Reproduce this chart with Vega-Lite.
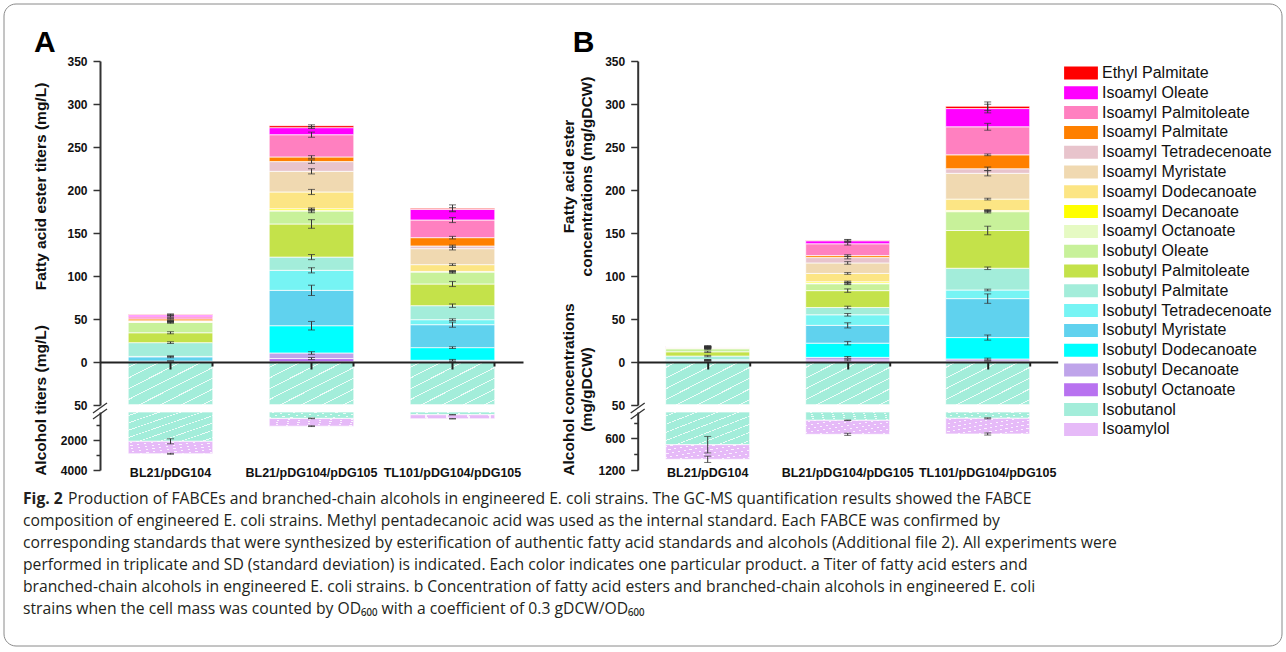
{
"$schema": "https://vega.github.io/schema/vega-lite/v6.json",
"autosize": {"type": "pad"},
"padding": 3,
"bounds": "flush",
"columns": 2,
"spacing": {"row": 7, "column": 114.7},
"config": {
  "view": {"stroke": null},
  "font": "Liberation Sans",
  "axis": {"labelFont": "Liberation Sans", "labelFontWeight": "bold", "labelFontSize": 12, "labelColor": "#111", "titleFont": "Liberation Sans", "titleFontWeight": "bold", "titleFontSize": 15.5, "titleColor": "#111", "domainColor": "#333", "domainWidth": 2, "tickColor": "#333", "tickWidth": 1.5, "grid": false, "labelOverlap": false},
  "legend": {"orient": "none", "legendX": 973, "legendY": 4, "labelFont": "Liberation Sans", "labelFontSize": 16, "labelColor": "#111", "symbolType": "M-2.6,-1H2.6V1H-2.6Z", "symbolSize": 169, "symbolStrokeWidth": 0, "symbolOpacity": 1, "labelOffset": 13, "rowPadding": 3.8, "padding": 0, "labelLimit": 300}
},
"datasets": {
  "cmp": [
    {"c":"Isobutyl Octanoate","k":1},{"c":"Isobutyl Decanoate","k":2},{"c":"Isobutyl Dodecanoate","k":3},{"c":"Isobutyl Myristate","k":4},{"c":"Isobutyl Tetradecenoate","k":5},{"c":"Isobutyl Palmitate","k":6},{"c":"Isobutyl Palmitoleate","k":7},{"c":"Isobutyl Oleate","k":8},{"c":"Isoamyl Octanoate","k":9},{"c":"Isoamyl Decanoate","k":10},{"c":"Isoamyl Dodecanoate","k":11},{"c":"Isoamyl Myristate","k":12},{"c":"Isoamyl Tetradecenoate","k":13},{"c":"Isoamyl Palmitate","k":14},{"c":"Isoamyl Palmitoleate","k":15},{"c":"Isoamyl Oleate","k":16},{"c":"Ethyl Palmitate","k":17},{"c":"Isobutanol","k":18},{"c":"Isoamylol","k":19}
  ],
  "cap": [
    {"line":1,"lead":"Fig. 2","t":"Production of FABCEs and branched-chain alcohols in engineered E. coli strains. The GC-MS quantification results showed the FABCE"},
    {"line":2,"lead":"","t":"composition of engineered E. coli strains. Methyl pentadecanoic acid was used as the internal standard. Each FABCE was confirmed by"},
    {"line":3,"lead":"","t":"corresponding standards that were synthesized by esterification of authentic fatty acid standards and alcohols (Additional file 2). All experiments were"},
    {"line":4,"lead":"","t":"performed in triplicate and SD (standard deviation) is indicated. Each color indicates one particular product. a Titer of fatty acid esters and"},
    {"line":5,"lead":"","t":"branched-chain alcohols in engineered E. coli strains. b Concentration of fatty acid esters and branched-chain alcohols in engineered E. coli"},
    {"line":6,"lead":"","t":"strains when the cell mass was counted by OD₆₀₀ with a coefficient of 0.3 gDCW/OD₆₀₀"}
  ],
  "rows": [
    {"p":"A","g":"E","s":"BL21/pDG104","c":"Isobutyl Octanoate","v":0,"e":0},
    {"p":"A","g":"E","s":"BL21/pDG104","c":"Isobutyl Decanoate","v":0.5,"e":0.5},
    {"p":"A","g":"E","s":"BL21/pDG104","c":"Isobutyl Dodecanoate","v":0.5,"e":0.3},
    {"p":"A","g":"E","s":"BL21/pDG104","c":"Isobutyl Myristate","v":5,"e":1},
    {"p":"A","g":"E","s":"BL21/pDG104","c":"Isobutyl Tetradecenoate","v":0.5,"e":0.3},
    {"p":"A","g":"E","s":"BL21/pDG104","c":"Isobutyl Palmitate","v":16,"e":1},
    {"p":"A","g":"E","s":"BL21/pDG104","c":"Isobutyl Palmitoleate","v":11.5,"e":1.2},
    {"p":"A","g":"E","s":"BL21/pDG104","c":"Isobutyl Oleate","v":12,"e":1},
    {"p":"A","g":"E","s":"BL21/pDG104","c":"Isoamyl Octanoate","v":0.3,"e":0.2},
    {"p":"A","g":"E","s":"BL21/pDG104","c":"Isoamyl Decanoate","v":0,"e":0},
    {"p":"A","g":"E","s":"BL21/pDG104","c":"Isoamyl Dodecanoate","v":0.5,"e":0.3},
    {"p":"A","g":"E","s":"BL21/pDG104","c":"Isoamyl Myristate","v":0.8,"e":0.5},
    {"p":"A","g":"E","s":"BL21/pDG104","c":"Isoamyl Tetradecenoate","v":0.3,"e":0.2},
    {"p":"A","g":"E","s":"BL21/pDG104","c":"Isoamyl Palmitate","v":2.2,"e":0.5},
    {"p":"A","g":"E","s":"BL21/pDG104","c":"Isoamyl Palmitoleate","v":2.5,"e":0.8},
    {"p":"A","g":"E","s":"BL21/pDG104","c":"Isoamyl Oleate","v":2,"e":0.8},
    {"p":"A","g":"E","s":"BL21/pDG104","c":"Ethyl Palmitate","v":0.5,"e":0.8},
    {"p":"A","g":"E","s":"BL21/pDG104/pDG105","c":"Isobutyl Octanoate","v":4,"e":1.2},
    {"p":"A","g":"E","s":"BL21/pDG104/pDG105","c":"Isobutyl Decanoate","v":6.5,"e":1.5},
    {"p":"A","g":"E","s":"BL21/pDG104/pDG105","c":"Isobutyl Dodecanoate","v":31.7,"e":5},
    {"p":"A","g":"E","s":"BL21/pDG104/pDG105","c":"Isobutyl Myristate","v":41.1,"e":6},
    {"p":"A","g":"E","s":"BL21/pDG104/pDG105","c":"Isobutyl Tetradecenoate","v":23.3,"e":3},
    {"p":"A","g":"E","s":"BL21/pDG104/pDG105","c":"Isobutyl Palmitate","v":15.4,"e":3},
    {"p":"A","g":"E","s":"BL21/pDG104/pDG105","c":"Isobutyl Palmitoleate","v":38.5,"e":5},
    {"p":"A","g":"E","s":"BL21/pDG104/pDG105","c":"Isobutyl Oleate","v":15.1,"e":2},
    {"p":"A","g":"E","s":"BL21/pDG104/pDG105","c":"Isoamyl Octanoate","v":0.5,"e":0.5},
    {"p":"A","g":"E","s":"BL21/pDG104/pDG105","c":"Isoamyl Decanoate","v":2,"e":1},
    {"p":"A","g":"E","s":"BL21/pDG104/pDG105","c":"Isoamyl Dodecanoate","v":19.6,"e":3},
    {"p":"A","g":"E","s":"BL21/pDG104/pDG105","c":"Isoamyl Myristate","v":24,"e":3},
    {"p":"A","g":"E","s":"BL21/pDG104/pDG105","c":"Isoamyl Tetradecenoate","v":11.3,"e":2},
    {"p":"A","g":"E","s":"BL21/pDG104/pDG105","c":"Isoamyl Palmitate","v":5.4,"e":1.5},
    {"p":"A","g":"E","s":"BL21/pDG104/pDG105","c":"Isoamyl Palmitoleate","v":25.9,"e":3},
    {"p":"A","g":"E","s":"BL21/pDG104/pDG105","c":"Isoamyl Oleate","v":8.2,"e":1},
    {"p":"A","g":"E","s":"BL21/pDG104/pDG105","c":"Ethyl Palmitate","v":2.3,"e":1},
    {"p":"A","g":"E","s":"TL101/pDG104/pDG105","c":"Isobutyl Octanoate","v":0.5,"e":0.3},
    {"p":"A","g":"E","s":"TL101/pDG104/pDG105","c":"Isobutyl Decanoate","v":1.5,"e":1},
    {"p":"A","g":"E","s":"TL101/pDG104/pDG105","c":"Isobutyl Dodecanoate","v":14.7,"e":1},
    {"p":"A","g":"E","s":"TL101/pDG104/pDG105","c":"Isobutyl Myristate","v":26.7,"e":3},
    {"p":"A","g":"E","s":"TL101/pDG104/pDG105","c":"Isobutyl Tetradecenoate","v":5.8,"e":1},
    {"p":"A","g":"E","s":"TL101/pDG104/pDG105","c":"Isobutyl Palmitate","v":16.3,"e":2},
    {"p":"A","g":"E","s":"TL101/pDG104/pDG105","c":"Isobutyl Palmitoleate","v":25.2,"e":3},
    {"p":"A","g":"E","s":"TL101/pDG104/pDG105","c":"Isobutyl Oleate","v":14,"e":1.5},
    {"p":"A","g":"E","s":"TL101/pDG104/pDG105","c":"Isoamyl Octanoate","v":0.3,"e":0.5},
    {"p":"A","g":"E","s":"TL101/pDG104/pDG105","c":"Isoamyl Decanoate","v":0.3,"e":0.5},
    {"p":"A","g":"E","s":"TL101/pDG104/pDG105","c":"Isoamyl Dodecanoate","v":7.9,"e":1},
    {"p":"A","g":"E","s":"TL101/pDG104/pDG105","c":"Isoamyl Myristate","v":18.6,"e":1.5},
    {"p":"A","g":"E","s":"TL101/pDG104/pDG105","c":"Isoamyl Tetradecenoate","v":3.1,"e":1},
    {"p":"A","g":"E","s":"TL101/pDG104/pDG105","c":"Isoamyl Palmitate","v":9.7,"e":1.5},
    {"p":"A","g":"E","s":"TL101/pDG104/pDG105","c":"Isoamyl Palmitoleate","v":20.5,"e":3},
    {"p":"A","g":"E","s":"TL101/pDG104/pDG105","c":"Isoamyl Oleate","v":12.4,"e":2},
    {"p":"A","g":"E","s":"TL101/pDG104/pDG105","c":"Ethyl Palmitate","v":1.2,"e":4},
    {"p":"B","g":"E","s":"BL21/pDG104","c":"Isobutyl Octanoate","v":0.3,"e":0.5},
    {"p":"B","g":"E","s":"BL21/pDG104","c":"Isobutyl Decanoate","v":0.5,"e":0.5},
    {"p":"B","g":"E","s":"BL21/pDG104","c":"Isobutyl Dodecanoate","v":0.3,"e":0.3},
    {"p":"B","g":"E","s":"BL21/pDG104","c":"Isobutyl Myristate","v":1.2,"e":0.5},
    {"p":"B","g":"E","s":"BL21/pDG104","c":"Isobutyl Tetradecenoate","v":0.3,"e":0.3},
    {"p":"B","g":"E","s":"BL21/pDG104","c":"Isobutyl Palmitate","v":4.3,"e":0.8},
    {"p":"B","g":"E","s":"BL21/pDG104","c":"Isobutyl Palmitoleate","v":5,"e":0.8},
    {"p":"B","g":"E","s":"BL21/pDG104","c":"Isobutyl Oleate","v":3.5,"e":0.8},
    {"p":"B","g":"E","s":"BL21/pDG104","c":"Isoamyl Octanoate","v":0.3,"e":0.3},
    {"p":"B","g":"E","s":"BL21/pDG104","c":"Isoamyl Decanoate","v":0,"e":0},
    {"p":"B","g":"E","s":"BL21/pDG104","c":"Isoamyl Dodecanoate","v":0.3,"e":0.3},
    {"p":"B","g":"E","s":"BL21/pDG104","c":"Isoamyl Myristate","v":1.2,"e":0.8},
    {"p":"B","g":"E","s":"BL21/pDG104","c":"Isoamyl Tetradecenoate","v":0.2,"e":0.3},
    {"p":"B","g":"E","s":"BL21/pDG104","c":"Isoamyl Palmitate","v":0.2,"e":0.3},
    {"p":"B","g":"E","s":"BL21/pDG104","c":"Isoamyl Palmitoleate","v":0.2,"e":0.5},
    {"p":"B","g":"E","s":"BL21/pDG104","c":"Isoamyl Oleate","v":0.1,"e":0.5},
    {"p":"B","g":"E","s":"BL21/pDG104","c":"Ethyl Palmitate","v":0.1,"e":1},
    {"p":"B","g":"E","s":"BL21/pDG104/pDG105","c":"Isobutyl Octanoate","v":2.3,"e":1},
    {"p":"B","g":"E","s":"BL21/pDG104/pDG105","c":"Isobutyl Decanoate","v":3.1,"e":1},
    {"p":"B","g":"E","s":"BL21/pDG104/pDG105","c":"Isobutyl Dodecanoate","v":16.5,"e":2},
    {"p":"B","g":"E","s":"BL21/pDG104/pDG105","c":"Isobutyl Myristate","v":20.7,"e":3},
    {"p":"B","g":"E","s":"BL21/pDG104/pDG105","c":"Isobutyl Tetradecenoate","v":12.3,"e":1.5},
    {"p":"B","g":"E","s":"BL21/pDG104/pDG105","c":"Isobutyl Palmitate","v":8.5,"e":1.5},
    {"p":"B","g":"E","s":"BL21/pDG104/pDG105","c":"Isobutyl Palmitoleate","v":19.6,"e":2},
    {"p":"B","g":"E","s":"BL21/pDG104/pDG105","c":"Isobutyl Oleate","v":8,"e":1},
    {"p":"B","g":"E","s":"BL21/pDG104/pDG105","c":"Isoamyl Octanoate","v":0.8,"e":1},
    {"p":"B","g":"E","s":"BL21/pDG104/pDG105","c":"Isoamyl Decanoate","v":1.5,"e":0.8},
    {"p":"B","g":"E","s":"BL21/pDG104/pDG105","c":"Isoamyl Dodecanoate","v":9.7,"e":1},
    {"p":"B","g":"E","s":"BL21/pDG104/pDG105","c":"Isoamyl Myristate","v":12.2,"e":1.5},
    {"p":"B","g":"E","s":"BL21/pDG104/pDG105","c":"Isoamyl Tetradecenoate","v":6.2,"e":1.5},
    {"p":"B","g":"E","s":"BL21/pDG104/pDG105","c":"Isoamyl Palmitate","v":2.3,"e":1},
    {"p":"B","g":"E","s":"BL21/pDG104/pDG105","c":"Isoamyl Palmitoleate","v":13.8,"e":1.5},
    {"p":"B","g":"E","s":"BL21/pDG104/pDG105","c":"Isoamyl Oleate","v":3.5,"e":1},
    {"p":"B","g":"E","s":"BL21/pDG104/pDG105","c":"Ethyl Palmitate","v":0.5,"e":1},
    {"p":"B","g":"E","s":"TL101/pDG104/pDG105","c":"Isobutyl Octanoate","v":1,"e":0.5},
    {"p":"B","g":"E","s":"TL101/pDG104/pDG105","c":"Isobutyl Decanoate","v":2.5,"e":1},
    {"p":"B","g":"E","s":"TL101/pDG104/pDG105","c":"Isobutyl Dodecanoate","v":24.9,"e":3},
    {"p":"B","g":"E","s":"TL101/pDG104/pDG105","c":"Isobutyl Myristate","v":45.3,"e":5.5},
    {"p":"B","g":"E","s":"TL101/pDG104/pDG105","c":"Isobutyl Tetradecenoate","v":10,"e":1},
    {"p":"B","g":"E","s":"TL101/pDG104/pDG105","c":"Isobutyl Palmitate","v":25.3,"e":1.5},
    {"p":"B","g":"E","s":"TL101/pDG104/pDG105","c":"Isobutyl Palmitoleate","v":43.9,"e":5},
    {"p":"B","g":"E","s":"TL101/pDG104/pDG105","c":"Isobutyl Oleate","v":21.9,"e":1.5},
    {"p":"B","g":"E","s":"TL101/pDG104/pDG105","c":"Isoamyl Octanoate","v":0.5,"e":0.8},
    {"p":"B","g":"E","s":"TL101/pDG104/pDG105","c":"Isoamyl Decanoate","v":0.8,"e":1},
    {"p":"B","g":"E","s":"TL101/pDG104/pDG105","c":"Isoamyl Dodecanoate","v":13.3,"e":1},
    {"p":"B","g":"E","s":"TL101/pDG104/pDG105","c":"Isoamyl Myristate","v":30,"e":3},
    {"p":"B","g":"E","s":"TL101/pDG104/pDG105","c":"Isoamyl Tetradecenoate","v":5.3,"e":2},
    {"p":"B","g":"E","s":"TL101/pDG104/pDG105","c":"Isoamyl Palmitate","v":16.2,"e":1},
    {"p":"B","g":"E","s":"TL101/pDG104/pDG105","c":"Isoamyl Palmitoleate","v":32.6,"e":4},
    {"p":"B","g":"E","s":"TL101/pDG104/pDG105","c":"Isoamyl Oleate","v":21.2,"e":5},
    {"p":"B","g":"E","s":"TL101/pDG104/pDG105","c":"Ethyl Palmitate","v":2.7,"e":5},
    {"p":"A","g":"L","s":"BL21/pDG104","c":"Isobutanol","v":2070,"e":170},
    {"p":"A","g":"L","s":"BL21/pDG104","c":"Isoamylol","v":840,"e":30},
    {"p":"A","g":"L","s":"BL21/pDG104/pDG105","c":"Isobutanol","v":529,"e":20},
    {"p":"A","g":"L","s":"BL21/pDG104/pDG105","c":"Isoamylol","v":524,"e":25},
    {"p":"A","g":"L","s":"TL101/pDG104/pDG105","c":"Isobutanol","v":284,"e":10},
    {"p":"A","g":"L","s":"TL101/pDG104/pDG105","c":"Isoamylol","v":272,"e":10},
    {"p":"B","g":"L","s":"BL21/pDG104","c":"Isobutanol","v":720,"e":157},
    {"p":"B","g":"L","s":"BL21/pDG104","c":"Isoamylol","v":277,"e":60},
    {"p":"B","g":"L","s":"BL21/pDG104/pDG105","c":"Isobutanol","v":257,"e":5},
    {"p":"B","g":"L","s":"BL21/pDG104/pDG105","c":"Isoamylol","v":266,"e":20},
    {"p":"B","g":"L","s":"TL101/pDG104/pDG105","c":"Isobutanol","v":219,"e":10},
    {"p":"B","g":"L","s":"TL101/pDG104/pDG105","c":"Isoamylol","v":298,"e":20}
  ]
},
"concat": [
  {
    "width": 423, "height": 344,
    "title": {"text": "A", "anchor": "start", "frame": "group", "dx": -66, "dy": 35.5, "offset": 8.5, "baseline": "alphabetic", "fontSize": 30, "fontWeight": "bold", "font": "Liberation Sans", "color": "#000"},
    "layer": [
      {
        "data": {"name": "rows"},
        "transform": [
          {"filter": "datum.p === 'A' && datum.g === 'E'"},
          {"lookup": "c", "from": {"data": {"name": "cmp"}, "key": "c", "fields": ["k"]}},
          {"stack": "v", "groupby": ["s"], "sort": [{"field": "k", "order": "ascending"}], "as": ["v0", "v1"]},
          {"calculate": "datum.v1 - datum.e", "as": "lo"},
          {"calculate": "datum.v1 + datum.e", "as": "hi"}
        ],
        "encoding": {"x": {"field": "s", "type": "nominal", "title": null, "scale": {"paddingInner": 0.4, "paddingOuter": 0.2}, "axis": {"orient": "bottom", "offset": -43, "labels": false, "domainColor": "#222", "domainWidth": 2, "tickColor": "#222", "tickWidth": 2, "tickSize": 7, "zindex": 1}}},
        "layer": [
          {"mark": {"type": "bar", "stroke": "white", "strokeWidth": 0.7, "opacity": 1},
           "encoding": {
             "y": {"field": "v0", "type": "quantitative", "scale": {"domain": [-50, 350], "nice": false, "zero": false},
               "axis": {"title": "Fatty acid ester titers (mg/L)", "titleY": 125, "titleX": -55, "titleBaseline": "alphabetic", "values": [-50,-25,0,25,50,75,100,125,150,175,200,225,250,275,300,325,350], "labelExpr": "datum.value % 50 === 0 ? format(abs(datum.value), 'd') : ''", "tickSize": {"condition": {"test": "datum.value % 50 === 0", "value": 7}, "value": 4}, "labelPadding": 6, "labelOverlap": false}},
             "y2": {"field": "v1"},
             "color": {"field": "c", "type": "nominal", "title": null, "scale": {"domain": ["Ethyl Palmitate","Isoamyl Oleate","Isoamyl Palmitoleate","Isoamyl Palmitate","Isoamyl Tetradecenoate","Isoamyl Myristate","Isoamyl Dodecanoate","Isoamyl Decanoate","Isoamyl Octanoate","Isobutyl Oleate","Isobutyl Palmitoleate","Isobutyl Palmitate","Isobutyl Tetradecenoate","Isobutyl Myristate","Isobutyl Dodecanoate","Isobutyl Decanoate","Isobutyl Octanoate","Isobutanol","Isoamylol"], "range": ["#FF0000","#FF00FF","#FF80C0","#FF8000","#E8C4CC","#F0D9B1","#FCE584","#FFFF00","#E6FAC3","#C8F19A","#C4E24A","#A3EDDA","#76F4F4","#60D2EE","#00FFFF","#BFA4EA","#B872F0","#A3EDDA","#E6BAF8"]}}
           }},
          {"transform": [{"filter": "datum.e > 0"}], "mark": {"type": "rule", "color": "#333", "strokeWidth": 1}, "encoding": {"y": {"field": "lo", "type": "quantitative"}, "y2": {"field": "hi"}}},
          {"transform": [{"filter": "datum.e > 0"}], "mark": {"type": "tick", "color": "#333", "size": 7, "thickness": 1}, "encoding": {"y": {"field": "lo", "type": "quantitative"}}},
          {"transform": [{"filter": "datum.e > 0"}], "mark": {"type": "tick", "color": "#333", "size": 7, "thickness": 1}, "encoding": {"y": {"field": "hi", "type": "quantitative"}}}
        ]
      },
      {
        "data": {"name": "rows"},
        "transform": [
          {"filter": "datum.p === 'A' && datum.g === 'L'"},
          {"lookup": "c", "from": {"data": {"name": "cmp"}, "key": "c", "fields": ["k"]}},
          {"stack": "v", "groupby": ["s"], "sort": [{"field": "k", "order": "ascending"}], "as": ["v0", "v1"]}
        ],
        "encoding": {
          "x": {"field": "s", "type": "nominal", "title": null, "scale": {"paddingInner": 0.4, "paddingOuter": 0.2}, "axis": {"orient": "bottom", "offset": -43, "labels": false, "domain": false, "bandPosition": 1, "tickColor": "#222", "tickWidth": 2, "tickSize": 4, "zindex": 1}},
          "y": {"field": "v0", "type": "quantitative", "scale": {"domain": [-350, 50], "reverse": true, "nice": false, "zero": false, "clamp": true}, "axis": null},
          "y2": {"field": "v1"}
        },
        "layer": [
          {"mark": {"type": "bar", "stroke": "white", "strokeWidth": 0.7},
           "encoding": {"color": {"field": "c", "type": "nominal", "title": null, "scale": {"domain": ["Ethyl Palmitate","Isoamyl Oleate","Isoamyl Palmitoleate","Isoamyl Palmitate","Isoamyl Tetradecenoate","Isoamyl Myristate","Isoamyl Dodecanoate","Isoamyl Decanoate","Isoamyl Octanoate","Isobutyl Oleate","Isobutyl Palmitoleate","Isobutyl Palmitate","Isobutyl Tetradecenoate","Isobutyl Myristate","Isobutyl Dodecanoate","Isobutyl Decanoate","Isobutyl Octanoate","Isobutanol","Isoamylol"], "range": ["#FF0000","#FF00FF","#FF80C0","#FF8000","#E8C4CC","#F0D9B1","#FCE584","#FFFF00","#E6FAC3","#C8F19A","#C4E24A","#A3EDDA","#76F4F4","#60D2EE","#00FFFF","#BFA4EA","#B872F0","#A3EDDA","#E6BAF8"]}}}},
          {"mark": {"type": "bar", "strokeWidth": 0, "fill": {"gradient": "linear", "x1": 0, "y1": 0, "x2": 1, "y2": 1, "stops": [{"offset": 0, "color": "rgba(255,255,255,0)"}, {"offset": 0.056, "color": "rgba(255,255,255,0)"}, {"offset": 0.056, "color": "rgba(255,255,255,0.8)"}, {"offset": 0.069, "color": "rgba(255,255,255,0.8)"}, {"offset": 0.069, "color": "rgba(255,255,255,0)"}, {"offset": 0.181, "color": "rgba(255,255,255,0)"}, {"offset": 0.181, "color": "rgba(255,255,255,0.8)"}, {"offset": 0.194, "color": "rgba(255,255,255,0.8)"}, {"offset": 0.194, "color": "rgba(255,255,255,0)"}, {"offset": 0.306, "color": "rgba(255,255,255,0)"}, {"offset": 0.306, "color": "rgba(255,255,255,0.8)"}, {"offset": 0.319, "color": "rgba(255,255,255,0.8)"}, {"offset": 0.319, "color": "rgba(255,255,255,0)"}, {"offset": 0.431, "color": "rgba(255,255,255,0)"}, {"offset": 0.431, "color": "rgba(255,255,255,0.8)"}, {"offset": 0.444, "color": "rgba(255,255,255,0.8)"}, {"offset": 0.444, "color": "rgba(255,255,255,0)"}, {"offset": 0.556, "color": "rgba(255,255,255,0)"}, {"offset": 0.556, "color": "rgba(255,255,255,0.8)"}, {"offset": 0.569, "color": "rgba(255,255,255,0.8)"}, {"offset": 0.569, "color": "rgba(255,255,255,0)"}, {"offset": 0.681, "color": "rgba(255,255,255,0)"}, {"offset": 0.681, "color": "rgba(255,255,255,0.8)"}, {"offset": 0.694, "color": "rgba(255,255,255,0.8)"}, {"offset": 0.694, "color": "rgba(255,255,255,0)"}, {"offset": 0.806, "color": "rgba(255,255,255,0)"}, {"offset": 0.806, "color": "rgba(255,255,255,0.8)"}, {"offset": 0.819, "color": "rgba(255,255,255,0.8)"}, {"offset": 0.819, "color": "rgba(255,255,255,0)"}, {"offset": 0.931, "color": "rgba(255,255,255,0)"}, {"offset": 0.931, "color": "rgba(255,255,255,0.8)"}, {"offset": 0.944, "color": "rgba(255,255,255,0.8)"}, {"offset": 0.944, "color": "rgba(255,255,255,0)"}, {"offset": 1, "color": "rgba(255,255,255,0)"}]}}}
        ]
      }
    ],
    "resolve": {"scale": {"y": "independent"}, "axis": {"x": "independent"}}
  },
  {
    "width": 420, "height": 344,
    "title": {"text": "B", "anchor": "start", "frame": "group", "dx": -65, "dy": 35.5, "offset": 8.5, "baseline": "alphabetic", "fontSize": 30, "fontWeight": "bold", "font": "Liberation Sans", "color": "#000"},
    "layer": [
      {
        "data": {"name": "rows"},
        "transform": [
          {"filter": "datum.p === 'B' && datum.g === 'E'"},
          {"lookup": "c", "from": {"data": {"name": "cmp"}, "key": "c", "fields": ["k"]}},
          {"stack": "v", "groupby": ["s"], "sort": [{"field": "k", "order": "ascending"}], "as": ["v0", "v1"]},
          {"calculate": "datum.v1 - datum.e", "as": "lo"},
          {"calculate": "datum.v1 + datum.e", "as": "hi"}
        ],
        "encoding": {"x": {"field": "s", "type": "nominal", "title": null, "scale": {"paddingInner": 0.4, "paddingOuter": 0.2}, "axis": {"orient": "bottom", "offset": -43, "labels": false, "domainColor": "#222", "domainWidth": 2, "tickColor": "#222", "tickWidth": 2, "tickSize": 7, "zindex": 1}}},
        "layer": [
          {"mark": {"type": "bar", "stroke": "white", "strokeWidth": 0.7, "opacity": 1},
           "encoding": {
             "y": {"field": "v0", "type": "quantitative", "scale": {"domain": [-50, 350], "nice": false, "zero": false},
               "axis": {"title": ["Fatty acid ester", "concentrations (mg/gDCW)"], "titleLineHeight": 18, "titleY": 115, "titleX": -64, "titleBaseline": "alphabetic", "values": [-50,-25,0,25,50,75,100,125,150,175,200,225,250,275,300,325,350], "labelExpr": "datum.value % 50 === 0 ? format(abs(datum.value), 'd') : ''", "tickSize": {"condition": {"test": "datum.value % 50 === 0", "value": 7}, "value": 4}, "labelPadding": 6, "labelOverlap": false}},
             "y2": {"field": "v1"},
             "color": {"field": "c", "type": "nominal", "title": null, "scale": {"domain": ["Ethyl Palmitate","Isoamyl Oleate","Isoamyl Palmitoleate","Isoamyl Palmitate","Isoamyl Tetradecenoate","Isoamyl Myristate","Isoamyl Dodecanoate","Isoamyl Decanoate","Isoamyl Octanoate","Isobutyl Oleate","Isobutyl Palmitoleate","Isobutyl Palmitate","Isobutyl Tetradecenoate","Isobutyl Myristate","Isobutyl Dodecanoate","Isobutyl Decanoate","Isobutyl Octanoate","Isobutanol","Isoamylol"], "range": ["#FF0000","#FF00FF","#FF80C0","#FF8000","#E8C4CC","#F0D9B1","#FCE584","#FFFF00","#E6FAC3","#C8F19A","#C4E24A","#A3EDDA","#76F4F4","#60D2EE","#00FFFF","#BFA4EA","#B872F0","#A3EDDA","#E6BAF8"]}}
           }},
          {"transform": [{"filter": "datum.e > 0"}], "mark": {"type": "rule", "color": "#333", "strokeWidth": 1}, "encoding": {"y": {"field": "lo", "type": "quantitative"}, "y2": {"field": "hi"}}},
          {"transform": [{"filter": "datum.e > 0"}], "mark": {"type": "tick", "color": "#333", "size": 7, "thickness": 1}, "encoding": {"y": {"field": "lo", "type": "quantitative"}}},
          {"transform": [{"filter": "datum.e > 0"}], "mark": {"type": "tick", "color": "#333", "size": 7, "thickness": 1}, "encoding": {"y": {"field": "hi", "type": "quantitative"}}}
        ]
      },
      {
        "data": {"name": "rows"},
        "transform": [
          {"filter": "datum.p === 'B' && datum.g === 'L'"},
          {"lookup": "c", "from": {"data": {"name": "cmp"}, "key": "c", "fields": ["k"]}},
          {"stack": "v", "groupby": ["s"], "sort": [{"field": "k", "order": "ascending"}], "as": ["v0", "v1"]}
        ],
        "encoding": {
          "x": {"field": "s", "type": "nominal", "title": null, "scale": {"paddingInner": 0.4, "paddingOuter": 0.2}, "axis": {"orient": "bottom", "offset": -43, "labels": false, "domain": false, "bandPosition": 1, "tickColor": "#222", "tickWidth": 2, "tickSize": 4, "zindex": 1}},
          "y": {"field": "v0", "type": "quantitative", "scale": {"domain": [-350, 50], "reverse": true, "nice": false, "zero": false, "clamp": true}, "axis": null},
          "y2": {"field": "v1"}
        },
        "layer": [
          {"mark": {"type": "bar", "stroke": "white", "strokeWidth": 0.7},
           "encoding": {"color": {"field": "c", "type": "nominal", "title": null, "scale": {"domain": ["Ethyl Palmitate","Isoamyl Oleate","Isoamyl Palmitoleate","Isoamyl Palmitate","Isoamyl Tetradecenoate","Isoamyl Myristate","Isoamyl Dodecanoate","Isoamyl Decanoate","Isoamyl Octanoate","Isobutyl Oleate","Isobutyl Palmitoleate","Isobutyl Palmitate","Isobutyl Tetradecenoate","Isobutyl Myristate","Isobutyl Dodecanoate","Isobutyl Decanoate","Isobutyl Octanoate","Isobutanol","Isoamylol"], "range": ["#FF0000","#FF00FF","#FF80C0","#FF8000","#E8C4CC","#F0D9B1","#FCE584","#FFFF00","#E6FAC3","#C8F19A","#C4E24A","#A3EDDA","#76F4F4","#60D2EE","#00FFFF","#BFA4EA","#B872F0","#A3EDDA","#E6BAF8"]}}}},
          {"mark": {"type": "bar", "strokeWidth": 0, "fill": {"gradient": "linear", "x1": 0, "y1": 0, "x2": 1, "y2": 1, "stops": [{"offset": 0, "color": "rgba(255,255,255,0)"}, {"offset": 0.056, "color": "rgba(255,255,255,0)"}, {"offset": 0.056, "color": "rgba(255,255,255,0.8)"}, {"offset": 0.069, "color": "rgba(255,255,255,0.8)"}, {"offset": 0.069, "color": "rgba(255,255,255,0)"}, {"offset": 0.181, "color": "rgba(255,255,255,0)"}, {"offset": 0.181, "color": "rgba(255,255,255,0.8)"}, {"offset": 0.194, "color": "rgba(255,255,255,0.8)"}, {"offset": 0.194, "color": "rgba(255,255,255,0)"}, {"offset": 0.306, "color": "rgba(255,255,255,0)"}, {"offset": 0.306, "color": "rgba(255,255,255,0.8)"}, {"offset": 0.319, "color": "rgba(255,255,255,0.8)"}, {"offset": 0.319, "color": "rgba(255,255,255,0)"}, {"offset": 0.431, "color": "rgba(255,255,255,0)"}, {"offset": 0.431, "color": "rgba(255,255,255,0.8)"}, {"offset": 0.444, "color": "rgba(255,255,255,0.8)"}, {"offset": 0.444, "color": "rgba(255,255,255,0)"}, {"offset": 0.556, "color": "rgba(255,255,255,0)"}, {"offset": 0.556, "color": "rgba(255,255,255,0.8)"}, {"offset": 0.569, "color": "rgba(255,255,255,0.8)"}, {"offset": 0.569, "color": "rgba(255,255,255,0)"}, {"offset": 0.681, "color": "rgba(255,255,255,0)"}, {"offset": 0.681, "color": "rgba(255,255,255,0.8)"}, {"offset": 0.694, "color": "rgba(255,255,255,0.8)"}, {"offset": 0.694, "color": "rgba(255,255,255,0)"}, {"offset": 0.806, "color": "rgba(255,255,255,0)"}, {"offset": 0.806, "color": "rgba(255,255,255,0.8)"}, {"offset": 0.819, "color": "rgba(255,255,255,0.8)"}, {"offset": 0.819, "color": "rgba(255,255,255,0)"}, {"offset": 0.931, "color": "rgba(255,255,255,0)"}, {"offset": 0.931, "color": "rgba(255,255,255,0.8)"}, {"offset": 0.944, "color": "rgba(255,255,255,0.8)"}, {"offset": 0.944, "color": "rgba(255,255,255,0)"}, {"offset": 1, "color": "rgba(255,255,255,0)"}]}}}
        ]
      }
    ],
    "resolve": {"scale": {"y": "independent"}, "axis": {"x": "independent"}}
  },
  {
    "width": 423, "height": 58,
    "layer": [
      {
        "data": {"name": "rows"},
        "transform": [
          {"filter": "datum.p === 'A' && datum.g === 'L'"},
          {"lookup": "c", "from": {"data": {"name": "cmp"}, "key": "c", "fields": ["k"]}},
          {"stack": "v", "groupby": ["s"], "sort": [{"field": "k", "order": "ascending"}], "as": ["v0", "v1"]},
          {"calculate": "datum.v1 - datum.e", "as": "lo"},
          {"calculate": "datum.v1 + datum.e", "as": "hi"}
        ],
        "encoding": {"x": {"field": "s", "type": "nominal", "title": null, "scale": {"paddingInner": 0.4, "paddingOuter": 0.2}, "axis": {"domain": false, "ticks": false, "tickSize": 0, "labelFontSize": 12.5, "labelPadding": 2, "labelBaseline": "middle", "labelAngle": 0, "labelColor": "#111"}}},
        "layer": [
          {"mark": {"type": "bar", "stroke": "white", "strokeWidth": 0.7},
           "encoding": {
             "y": {"field": "v0", "type": "quantitative", "scale": {"domain": [100, 4000], "reverse": true, "nice": false, "zero": false, "clamp": true},
               "axis": {"title": "Alcohol titers (mg/L)", "titleY": -12, "titleX": -55, "titleBaseline": "alphabetic", "values": [2000, 4000], "labelExpr": "format(datum.value, 'd')", "tickSize": 7, "labelPadding": 6, "labelOverlap": false}},
             "y2": {"field": "v1"},
             "color": {"field": "c", "type": "nominal", "title": null, "scale": {"domain": ["Ethyl Palmitate","Isoamyl Oleate","Isoamyl Palmitoleate","Isoamyl Palmitate","Isoamyl Tetradecenoate","Isoamyl Myristate","Isoamyl Dodecanoate","Isoamyl Decanoate","Isoamyl Octanoate","Isobutyl Oleate","Isobutyl Palmitoleate","Isobutyl Palmitate","Isobutyl Tetradecenoate","Isobutyl Myristate","Isobutyl Dodecanoate","Isobutyl Decanoate","Isobutyl Octanoate","Isobutanol","Isoamylol"], "range": ["#FF0000","#FF00FF","#FF80C0","#FF8000","#E8C4CC","#F0D9B1","#FCE584","#FFFF00","#E6FAC3","#C8F19A","#C4E24A","#A3EDDA","#76F4F4","#60D2EE","#00FFFF","#BFA4EA","#B872F0","#A3EDDA","#E6BAF8"]}}
           }},
          {"mark": {"type": "bar", "strokeWidth": 0, "fill": {"gradient": "linear", "x1": 0, "y1": 0, "x2": 1, "y2": 1, "stops": [{"offset": 0, "color": "rgba(255,255,255,0)"}, {"offset": 0.056, "color": "rgba(255,255,255,0)"}, {"offset": 0.056, "color": "rgba(255,255,255,0.8)"}, {"offset": 0.069, "color": "rgba(255,255,255,0.8)"}, {"offset": 0.069, "color": "rgba(255,255,255,0)"}, {"offset": 0.181, "color": "rgba(255,255,255,0)"}, {"offset": 0.181, "color": "rgba(255,255,255,0.8)"}, {"offset": 0.194, "color": "rgba(255,255,255,0.8)"}, {"offset": 0.194, "color": "rgba(255,255,255,0)"}, {"offset": 0.306, "color": "rgba(255,255,255,0)"}, {"offset": 0.306, "color": "rgba(255,255,255,0.8)"}, {"offset": 0.319, "color": "rgba(255,255,255,0.8)"}, {"offset": 0.319, "color": "rgba(255,255,255,0)"}, {"offset": 0.431, "color": "rgba(255,255,255,0)"}, {"offset": 0.431, "color": "rgba(255,255,255,0.8)"}, {"offset": 0.444, "color": "rgba(255,255,255,0.8)"}, {"offset": 0.444, "color": "rgba(255,255,255,0)"}, {"offset": 0.556, "color": "rgba(255,255,255,0)"}, {"offset": 0.556, "color": "rgba(255,255,255,0.8)"}, {"offset": 0.569, "color": "rgba(255,255,255,0.8)"}, {"offset": 0.569, "color": "rgba(255,255,255,0)"}, {"offset": 0.681, "color": "rgba(255,255,255,0)"}, {"offset": 0.681, "color": "rgba(255,255,255,0.8)"}, {"offset": 0.694, "color": "rgba(255,255,255,0.8)"}, {"offset": 0.694, "color": "rgba(255,255,255,0)"}, {"offset": 0.806, "color": "rgba(255,255,255,0)"}, {"offset": 0.806, "color": "rgba(255,255,255,0.8)"}, {"offset": 0.819, "color": "rgba(255,255,255,0.8)"}, {"offset": 0.819, "color": "rgba(255,255,255,0)"}, {"offset": 0.931, "color": "rgba(255,255,255,0)"}, {"offset": 0.931, "color": "rgba(255,255,255,0.8)"}, {"offset": 0.944, "color": "rgba(255,255,255,0.8)"}, {"offset": 0.944, "color": "rgba(255,255,255,0)"}, {"offset": 1, "color": "rgba(255,255,255,0)"}]}},
           "encoding": {"y": {"field": "v0", "type": "quantitative"}, "y2": {"field": "v1"}}},
          {"mark": {"type": "rule", "color": "#333", "strokeWidth": 1}, "encoding": {"y": {"field": "lo", "type": "quantitative"}, "y2": {"field": "hi"}}},
          {"mark": {"type": "tick", "color": "#333", "size": 7, "thickness": 1}, "encoding": {"y": {"field": "lo", "type": "quantitative"}}},
          {"mark": {"type": "tick", "color": "#333", "size": 7, "thickness": 1}, "encoding": {"y": {"field": "hi", "type": "quantitative"}}}
        ]
      },
      {"data": {"values": [{"m": 1000}, {"m": 3000}]}, "mark": {"type": "tick", "opacity": 0}, "encoding": {"y": {"field": "m", "type": "quantitative", "axis": {"orient": "left", "values": [1000, 3000], "labels": false, "domain": false, "tickSize": 4, "title": null}}}},
      {"data": {"values": [{"brk": 1}]}, "mark": {"type": "rule", "color": "#333", "strokeWidth": 1.3}, "encoding": {"x": {"value": -7}, "x2": {"value": 7}, "y": {"value": 1}, "y2": {"value": -9}}},
      {"data": {"values": [{"brk": 1}]}, "mark": {"type": "rule", "color": "#333", "strokeWidth": 1.3}, "encoding": {"x": {"value": -7}, "x2": {"value": 7}, "y": {"value": 7}, "y2": {"value": -3}}}
    ],
    "resolve": {"axis": {"y": "independent"}}
  },
  {
    "width": 420, "height": 58,
    "layer": [
      {
        "data": {"name": "rows"},
        "transform": [
          {"filter": "datum.p === 'B' && datum.g === 'L'"},
          {"lookup": "c", "from": {"data": {"name": "cmp"}, "key": "c", "fields": ["k"]}},
          {"stack": "v", "groupby": ["s"], "sort": [{"field": "k", "order": "ascending"}], "as": ["v0", "v1"]},
          {"calculate": "datum.v1 - datum.e", "as": "lo"},
          {"calculate": "datum.v1 + datum.e", "as": "hi"}
        ],
        "encoding": {"x": {"field": "s", "type": "nominal", "title": null, "scale": {"paddingInner": 0.4, "paddingOuter": 0.2}, "axis": {"domain": false, "ticks": false, "tickSize": 0, "labelFontSize": 12.5, "labelPadding": 2, "labelBaseline": "middle", "labelAngle": 0, "labelColor": "#111"}}},
        "layer": [
          {"mark": {"type": "bar", "stroke": "white", "strokeWidth": 0.7},
           "encoding": {
             "y": {"field": "v0", "type": "quantitative", "scale": {"domain": [100, 1200], "reverse": true, "nice": false, "zero": false, "clamp": true},
               "axis": {"title": ["Alcohol concentrations", "(mg/gDCW)"], "titleLineHeight": 18, "titleY": -23, "titleX": -64, "titleBaseline": "alphabetic", "values": [600, 1200], "labelExpr": "format(datum.value, 'd')", "tickSize": 7, "labelPadding": 6, "labelOverlap": false}},
             "y2": {"field": "v1"},
             "color": {"field": "c", "type": "nominal", "title": null, "scale": {"domain": ["Ethyl Palmitate","Isoamyl Oleate","Isoamyl Palmitoleate","Isoamyl Palmitate","Isoamyl Tetradecenoate","Isoamyl Myristate","Isoamyl Dodecanoate","Isoamyl Decanoate","Isoamyl Octanoate","Isobutyl Oleate","Isobutyl Palmitoleate","Isobutyl Palmitate","Isobutyl Tetradecenoate","Isobutyl Myristate","Isobutyl Dodecanoate","Isobutyl Decanoate","Isobutyl Octanoate","Isobutanol","Isoamylol"], "range": ["#FF0000","#FF00FF","#FF80C0","#FF8000","#E8C4CC","#F0D9B1","#FCE584","#FFFF00","#E6FAC3","#C8F19A","#C4E24A","#A3EDDA","#76F4F4","#60D2EE","#00FFFF","#BFA4EA","#B872F0","#A3EDDA","#E6BAF8"]}}
           }},
          {"mark": {"type": "bar", "strokeWidth": 0, "fill": {"gradient": "linear", "x1": 0, "y1": 0, "x2": 1, "y2": 1, "stops": [{"offset": 0, "color": "rgba(255,255,255,0)"}, {"offset": 0.056, "color": "rgba(255,255,255,0)"}, {"offset": 0.056, "color": "rgba(255,255,255,0.8)"}, {"offset": 0.069, "color": "rgba(255,255,255,0.8)"}, {"offset": 0.069, "color": "rgba(255,255,255,0)"}, {"offset": 0.181, "color": "rgba(255,255,255,0)"}, {"offset": 0.181, "color": "rgba(255,255,255,0.8)"}, {"offset": 0.194, "color": "rgba(255,255,255,0.8)"}, {"offset": 0.194, "color": "rgba(255,255,255,0)"}, {"offset": 0.306, "color": "rgba(255,255,255,0)"}, {"offset": 0.306, "color": "rgba(255,255,255,0.8)"}, {"offset": 0.319, "color": "rgba(255,255,255,0.8)"}, {"offset": 0.319, "color": "rgba(255,255,255,0)"}, {"offset": 0.431, "color": "rgba(255,255,255,0)"}, {"offset": 0.431, "color": "rgba(255,255,255,0.8)"}, {"offset": 0.444, "color": "rgba(255,255,255,0.8)"}, {"offset": 0.444, "color": "rgba(255,255,255,0)"}, {"offset": 0.556, "color": "rgba(255,255,255,0)"}, {"offset": 0.556, "color": "rgba(255,255,255,0.8)"}, {"offset": 0.569, "color": "rgba(255,255,255,0.8)"}, {"offset": 0.569, "color": "rgba(255,255,255,0)"}, {"offset": 0.681, "color": "rgba(255,255,255,0)"}, {"offset": 0.681, "color": "rgba(255,255,255,0.8)"}, {"offset": 0.694, "color": "rgba(255,255,255,0.8)"}, {"offset": 0.694, "color": "rgba(255,255,255,0)"}, {"offset": 0.806, "color": "rgba(255,255,255,0)"}, {"offset": 0.806, "color": "rgba(255,255,255,0.8)"}, {"offset": 0.819, "color": "rgba(255,255,255,0.8)"}, {"offset": 0.819, "color": "rgba(255,255,255,0)"}, {"offset": 0.931, "color": "rgba(255,255,255,0)"}, {"offset": 0.931, "color": "rgba(255,255,255,0.8)"}, {"offset": 0.944, "color": "rgba(255,255,255,0.8)"}, {"offset": 0.944, "color": "rgba(255,255,255,0)"}, {"offset": 1, "color": "rgba(255,255,255,0)"}]}},
           "encoding": {"y": {"field": "v0", "type": "quantitative"}, "y2": {"field": "v1"}}},
          {"mark": {"type": "rule", "color": "#333", "strokeWidth": 1}, "encoding": {"y": {"field": "lo", "type": "quantitative"}, "y2": {"field": "hi"}}},
          {"mark": {"type": "tick", "color": "#333", "size": 7, "thickness": 1}, "encoding": {"y": {"field": "lo", "type": "quantitative"}}},
          {"mark": {"type": "tick", "color": "#333", "size": 7, "thickness": 1}, "encoding": {"y": {"field": "hi", "type": "quantitative"}}}
        ]
      },
      {"data": {"values": [{"m": 300}, {"m": 900}]}, "mark": {"type": "tick", "opacity": 0}, "encoding": {"y": {"field": "m", "type": "quantitative", "axis": {"orient": "left", "values": [300, 900], "labels": false, "domain": false, "tickSize": 4, "title": null}}}},
      {"data": {"values": [{"brk": 1}]}, "mark": {"type": "rule", "color": "#333", "strokeWidth": 1.3}, "encoding": {"x": {"value": -7}, "x2": {"value": 7}, "y": {"value": 1}, "y2": {"value": -9}}},
      {"data": {"values": [{"brk": 1}]}, "mark": {"type": "rule", "color": "#333", "strokeWidth": 1.3}, "encoding": {"x": {"value": -7}, "x2": {"value": 7}, "y": {"value": 7}, "y2": {"value": -3}}}
    ],
    "resolve": {"axis": {"y": "independent"}}
  },
  {
    "width": 400, "height": 132,
    "layer": [
      {"data": {"values": [{"frame": 1}]}, "mark": {"type": "rect", "fill": null, "stroke": "#8a8a8a", "strokeWidth": 1, "cornerRadius": 12}, "encoding": {"x": {"value": -96}, "x2": {"value": 1182}, "y": {"value": -473}, "y2": {"value": 169}}},
      {"data": {"name": "cap"}, "transform": [{"filter": "datum.line > 1"}], "mark": {"type": "text", "align": "left", "baseline": "middle", "font": "Open Sans", "fontSize": 15.7, "color": "#231f20"}, "encoding": {"y": {"field": "line", "type": "ordinal", "scale": {"type": "point", "padding": 0, "domain": [0,1,2,3,4,5,6]}, "axis": null}, "x": {"value": -77}, "text": {"field": "t"}}},
      {"data": {"name": "cap"}, "transform": [{"filter": "datum.line === 1"}], "mark": {"type": "text", "align": "left", "baseline": "middle", "font": "Open Sans", "fontSize": 15.7, "color": "#231f20", "dx": 45}, "encoding": {"y": {"field": "line", "type": "ordinal", "scale": {"type": "point", "padding": 0, "domain": [0,1,2,3,4,5,6]}, "axis": null}, "x": {"value": -77}, "text": {"field": "t"}}},
      {"data": {"name": "cap"}, "transform": [{"filter": "datum.line === 1"}], "mark": {"type": "text", "align": "left", "baseline": "middle", "font": "Open Sans", "fontSize": 15.7, "fontWeight": "bold", "color": "#231f20"}, "encoding": {"y": {"field": "line", "type": "ordinal", "scale": {"type": "point", "padding": 0, "domain": [0,1,2,3,4,5,6]}, "axis": null}, "x": {"value": -77}, "text": {"field": "lead"}}}
    ]
  }
]
}
